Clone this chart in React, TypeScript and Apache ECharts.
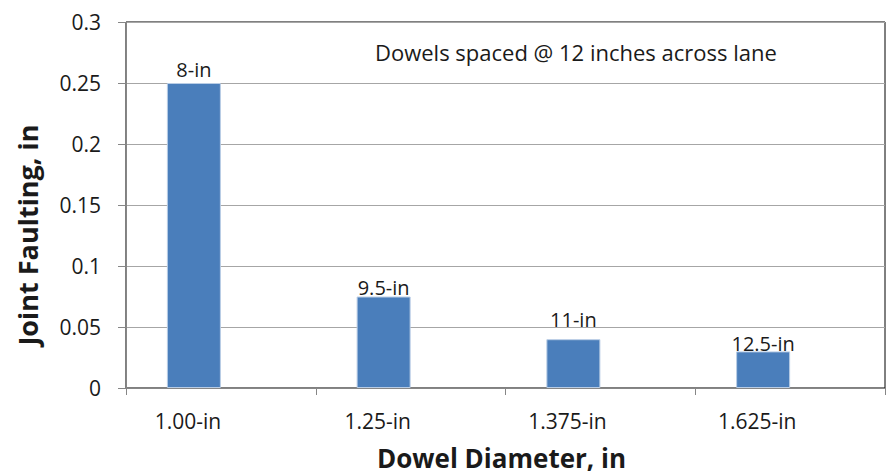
import React, { useEffect, useRef } from "react";
import * as echarts from "echarts";

const categories = ["1.00-in", "1.25-in", "1.375-in", "1.625-in"];
const faulting = [0.25, 0.075, 0.04, 0.03];
const barLabels = ["8-in", "9.5-in", "11-in", "12.5-in"];
const yTicks = [0, 0.05, 0.1, 0.15, 0.2, 0.25, 0.3];
const annotation = "Dowels spaced @ 12 inches across lane";
const labelDy = [1, 6, -5, 7];

const FONT = "'Open Sans', sans-serif";

export default function App() {
  const ref = useRef<HTMLDivElement>(null);
  useEffect(() => {
    if (!ref.current) return;
    const chart = echarts.init(ref.current, undefined, { renderer: "svg" });
    chart.setOption({
      animation: false,
      backgroundColor: "#ffffff",
      textStyle: { fontFamily: FONT },
      grid: {
        left: 126,
        right: 7,
        top: 22,
        bottom: 87,
        show: true,
        borderColor: "#000000",
        borderWidth: 1,
        outerBoundsMode: "none",
        containLabel: false,
      },
      graphic: [
        {
          type: "text",
          left: 375,
          top: 41,
          style: { text: annotation, font: `22px ${FONT}`, fill: "#1a1a1a" },
        },
      ],
      xAxis: {
        type: "category",
        data: categories,
        axisLine: { show: true, lineStyle: { color: "#868686", width: 1 } },
        axisTick: { show: true, length: 7, lineStyle: { color: "#868686" } },
        axisLabel: {
          color: "#1a1a1a",
          fontSize: 21,
          margin: 22,
          fontFamily: FONT,
          padding: [0, 66, 0, 0],
        },
        name: "Dowel Diameter, in",
        nameLocation: "middle",
        nameGap: 57,
        nameTextStyle: {
          fontSize: 26,
          fontWeight: "bold",
          color: "#1a1a1a",
          fontFamily: FONT,
          verticalAlign: "top",
          padding: [0, 8, 0, 0],
        },
      },
      yAxis: {
        type: "value",
        min: 0,
        max: 0.3,
        interval: 0.05,
        axisLine: { show: true, lineStyle: { color: "#868686", width: 1 } },
        axisTick: { show: true, length: 8, lineStyle: { color: "#868686" } },
        axisLabel: {
          color: "#1a1a1a",
          fontSize: 21,
          margin: 25,
          fontFamily: FONT,
          formatter: (v: number) => {
            const t = yTicks.find((x) => Math.abs(x - v) < 1e-9);
            return String(t !== undefined ? t : v);
          },
        },
        splitLine: { show: true, lineStyle: { color: "#a6a6a6", width: 1 } },
        name: "Joint Faulting, in",
        nameLocation: "middle",
        nameGap: 85,
        nameTextStyle: {
          fontSize: 27,
          fontWeight: "bold",
          color: "#1a1a1a",
          fontFamily: FONT,
          padding: [0, 60, 0, 0],
        },
      },
      series: [
        {
          type: "bar",
          barWidth: 54,
          barGap: "0%",
          data: faulting.map((v, i) => ({
            value: v,
            label: {
              show: true,
              position: "top",
              formatter: barLabels[i],
              offset: [0, labelDy[i]],
            },
          })),
          itemStyle: { color: "#4a7ebb", borderColor: "#b9cde5", borderWidth: 1 },
          label: { show: true, position: "top", color: "#1a1a1a", fontSize: 20, fontFamily: FONT },
        },
        {
          type: "bar",
          barWidth: 54,
          barGap: "0%",
          data: [],
        },
      ],
    });
    return () => chart.dispose();
  }, []);
  return (
    <div
      ref={ref}
      style={{ position: "fixed", left: 0, top: 0, width: 892, height: 475 }}
    />
  );
}
